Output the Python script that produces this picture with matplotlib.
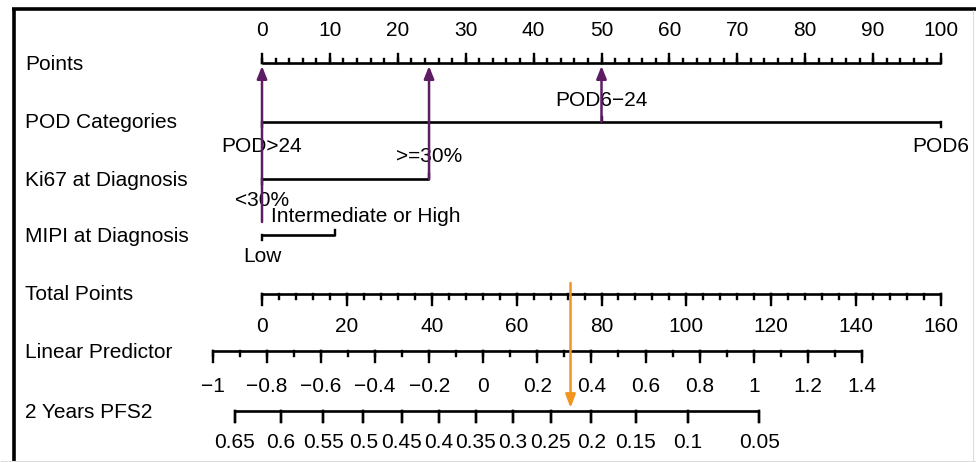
import numpy as np
import matplotlib.pyplot as plt

plt.rcParams['font.family'] = ['Liberation Sans', 'DejaVu Sans']

# nomogram scales
points_major = np.arange(0, 101, 10)
points_minor = np.arange(0, 101, 2)

pod_levels = ['POD>24', 'POD6\u221224', 'POD6']
pod_points = [0, 50, 100]
pod_side = ['below', 'above', 'below']

ki67_levels = ['<30%', '>=30%']
ki67_points = [0, 24.6]

mipi_levels = ['Low', 'Intermediate or High']
mipi_points = [0, 10.8]

total_major = np.arange(0, 161, 20)
total_minor = np.arange(0, 161, 4)

lp_major = np.round(np.arange(-1.0, 1.41, 0.2), 1)
lp_minor = np.round(np.arange(-1.0, 1.41, 0.1), 1)
lp_labels = ['\u22121', '\u22120.8', '\u22120.6', '\u22120.4', '\u22120.2', '0',
             '0.2', '0.4', '0.6', '0.8', '1', '1.2', '1.4']

pfs2_ticks = [0.65, 0.6, 0.55, 0.5, 0.45, 0.4, 0.35, 0.3, 0.25, 0.2, 0.15, 0.1, 0.05]
pfs2_labels = ['0.65', '0.6', '0.55', '0.5', '0.45', '0.4', '0.35', '0.3', '0.25',
               '0.2', '0.15', '0.1', '0.05']

# patient example: points picked per variable and resulting total
picked_points = [0, 24.6, 50]        # MIPI Low, Ki67 >=30%, POD6-24
picked_total = 72.7

# model constants linking the scales
LP_AT_ZERO = -0.818
LP_PER_TOTAL = 0.01569
LOGLOG_SHIFT = 0.0765


def total_to_points(tp):
    return np.asarray(tp) * 100.0 / 160.0


def lp_to_points(lp):
    return total_to_points((np.asarray(lp) - LP_AT_ZERO) / LP_PER_TOTAL)


def surv_to_points(s):
    lp = np.log(-np.log(np.asarray(s))) - LOGLOG_SHIFT
    return lp_to_points(lp)


# layout (pixels)
W, H = 976, 462
X0, X100 = 262, 941
ppp = (X100 - X0) / 100.0
rows = {'Points': 63, 'POD Categories': 122, 'Ki67 at Diagnosis': 179,
        'MIPI at Diagnosis': 235, 'Total Points': 294, 'Linear Predictor': 351,
        '2 Years PFS2': 411}

LW = 1.9
FS = 15
PURPLE = '#5e1d63'
ORANGE = '#f0951f'

fig = plt.figure(figsize=(W / 100, H / 100), dpi=100)
ax = fig.add_axes([0, 0, 1, 1])
ax.set_xlim(-X0 / ppp, (W - X0) / ppp)
ax.set_ylim(H, 0)
ax.axis('off')

for name, y in rows.items():
    ax.text(25 / W, y + 1, name, transform=ax.get_yaxis_transform(),
            fontsize=FS, va='center', ha='left')


def scale(y, major, minor, labels, length, minor_len, label_dy, conv=lambda v: v):
    xs_major = conv(major)
    xs_minor = conv(minor)
    ax.plot([xs_major.min(), xs_major.max()], [y, y], color='black', lw=LW,
            solid_capstyle='butt')
    for x in xs_minor:
        ax.plot([x, x], [y, y + minor_len], color='black', lw=LW * 0.9)
    for x, lab in zip(xs_major, labels):
        ax.plot([x, x], [y, y + length], color='black', lw=LW * 0.9)
        ax.text(x, y + label_dy, lab, fontsize=FS, ha='center', va='center')


# Points (ticks up, labels above)
scale(rows['Points'], points_major, points_minor, [str(v) for v in points_major],
      -9, -4, -32)

# POD categories
y_p = rows['POD Categories']
ax.plot([min(pod_points), max(pod_points)], [y_p, y_p], color='black', lw=LW,
        solid_capstyle='butt')
for x, lab, s in zip(pod_points, pod_levels, pod_side):
    d = -1 if s == 'above' else 1
    ax.plot([x, x], [y_p, y_p + d * 5], color='black', lw=LW * 0.9)
    ax.text(x, y_p + d * (22 if s == 'above' else 25), lab, fontsize=FS,
            ha='center', va='center')

# Ki67
y_k = rows['Ki67 at Diagnosis']
ax.plot(ki67_points, [y_k, y_k], color='black', lw=LW, solid_capstyle='butt')
ax.plot([ki67_points[0]] * 2, [y_k, y_k + 5], color='black', lw=LW * 0.9)
ax.plot([ki67_points[1]] * 2, [y_k, y_k - 5], color='black', lw=LW * 0.9)
ax.text(ki67_points[0], y_k + 22, ki67_levels[0], fontsize=FS, ha='center', va='center')
ax.text(ki67_points[1], y_k - 22, ki67_levels[1], fontsize=FS, ha='center', va='center')

# MIPI: upper label sits to the right of its tick
y_m = rows['MIPI at Diagnosis']
ax.plot(mipi_points, [y_m, y_m], color='black', lw=LW, solid_capstyle='butt')
ax.plot([mipi_points[0]] * 2, [y_m, y_m + 5], color='black', lw=LW * 0.9)
ax.plot([mipi_points[1]] * 2, [y_m, y_m - 5], color='black', lw=LW * 0.9)
ax.text(mipi_points[0], y_m + 21, mipi_levels[0], fontsize=FS, ha='center', va='center')
ax.annotate(mipi_levels[1], (mipi_points[1], y_m - 19), xytext=(22, 0),
            textcoords='offset points', fontsize=FS, ha='center', va='center')

# Total points, linear predictor, survival
scale(rows['Total Points'], total_major, total_minor, [str(v) for v in total_major],
      11, 5, 33, conv=total_to_points)
scale(rows['Linear Predictor'], lp_major, lp_minor, lp_labels, 11, 5, 36,
      conv=lp_to_points)
scale(rows['2 Years PFS2'], np.array(pfs2_ticks), np.array(pfs2_ticks), pfs2_labels,
      11, 11, 32, conv=surv_to_points)

# arrows for the example patient
tails = [rows['MIPI at Diagnosis'] - 13, rows['Ki67 at Diagnosis'], rows['POD Categories']]
for p, ty in zip(picked_points, tails):
    ax.annotate('', xy=(p, rows['Points'] + 3), xytext=(p, ty),
                arrowprops=dict(arrowstyle='-|>,head_length=0.75,head_width=0.3',
                                color=PURPLE, lw=1.8, shrinkA=0, shrinkB=0))

xt = total_to_points(picked_total)
ax.annotate('', xy=(xt, rows['2 Years PFS2'] - 3), xytext=(xt, rows['Total Points'] - 11),
            arrowprops=dict(arrowstyle='-|>,head_length=0.8,head_width=0.3',
                            color=ORANGE, lw=1.8, shrinkA=0, shrinkB=0))

# panel frame
frame = dict(transform=fig.transFigure, solid_capstyle='butt')
fig.add_artist(plt.Line2D([13.5 / W, 13.5 / W], [0, 1 - 8 / H], color='black', lw=2.6,
                          **frame))
fig.add_artist(plt.Line2D([12 / W, 1], [1 - 9 / H, 1 - 9 / H], color='black', lw=2.6,
                          **frame))
fig.add_artist(plt.Line2D([973 / W, 973 / W], [0, 1 - 10 / H], color='#dddddd', lw=0.8,
                          **frame))
fig.add_artist(plt.Line2D([0, 1], [1.5 / H, 1.5 / H], color='#dddddd', lw=0.8,
                          **frame))

fig.savefig('out.png', dpi=100)
